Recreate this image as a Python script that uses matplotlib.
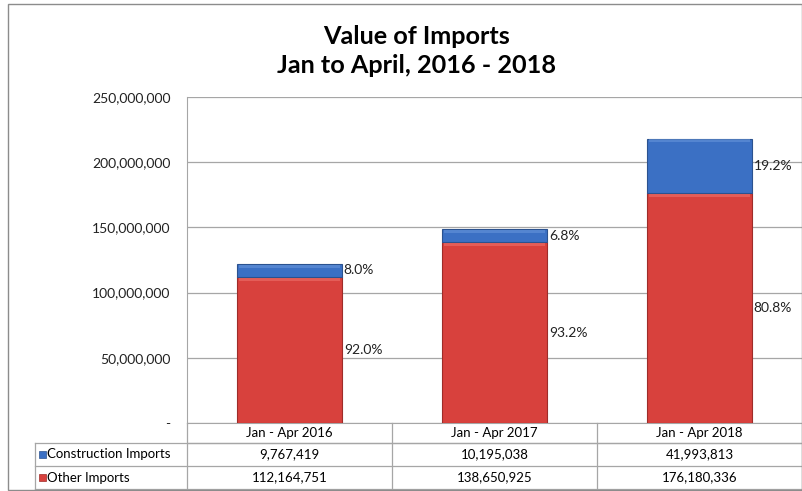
import matplotlib
matplotlib.use("Agg")
import matplotlib.pyplot as plt
from matplotlib.patches import Rectangle
from matplotlib.transforms import blended_transform_factory
import numpy as np

periods = ["Jan - Apr 2016", "Jan - Apr 2017", "Jan - Apr 2018"]
series = ["Construction Imports", "Other Imports"]
construction = [9767419, 10195038, 41993813]
other = [112164751, 138650925, 176180336]
yticks = [0, 50000000, 100000000, 150000000, 200000000, 250000000]

BLUE, BLUE_EDGE, BLUE_HI = "#3B70C4", "#2B528F", "#6A98DC"
RED, RED_EDGE, RED_HI = "#D8413D", "#9E2C29", "#EE7570"
GRID = "#A6A6A6"

plt.rcParams["font.family"] = ["Lato", "DejaVu Sans"]

W, H = 803, 491
fig = plt.figure(figsize=(W / 100, H / 100), dpi=100)
ax = fig.add_axes([187 / W, 1 - 423 / H, (802 - 187) / W, (423 - 97) / H])

x = np.arange(len(periods))
cons = np.array(construction)
oth = np.array(other)
tot = cons + oth
bw = 0.51

ax.bar(x, oth, width=bw, color=RED, edgecolor=RED_EDGE, linewidth=0.8, zorder=3)
ax.bar(x, cons, bottom=oth, width=bw, color=BLUE, edgecolor=BLUE_EDGE, linewidth=0.8, zorder=3)
# thin highlight on top of each segment (bevel look)
hi = 250000000 * 3 / 326
ax.bar(x, hi, bottom=oth - hi * 1.3, width=bw * 0.97, color=RED_HI, linewidth=0, zorder=4, alpha=0.55)
ax.bar(x, hi, bottom=tot - hi * 1.3, width=bw * 0.97, color=BLUE_HI, linewidth=0, zorder=4, alpha=0.55)

# percentage labels right of each segment
for i in range(len(x)):
    ax.text(x[i] + 0.265, oth[i] + cons[i] / 2, f"{cons[i] / tot[i] * 100:.1f}%",
            va="center", ha="left", fontsize=10, color="#222222")
    ax.text(x[i] + 0.265, oth[i] / 2, f"{oth[i] / tot[i] * 100:.1f}%",
            va="center", ha="left", fontsize=10, color="#222222")

ax.set_xlim(-0.5, 2.5)
ax.set_ylim(0, 250000000)
ax.set_yticks(yticks)
ax.set_yticklabels(["-" if v == 0 else f"{v:,}" for v in yticks], fontsize=10, color="#222222")
ax.tick_params(axis="y", length=0, pad=12)
ax.set_xticks([])
ax.yaxis.grid(True, color=GRID, linewidth=0.9, zorder=0)
for s in ["top", "right"]:
    ax.spines[s].set_visible(False)
ax.spines["left"].set_color(GRID)
ax.spines["bottom"].set_color(GRID)

fig.text(417 / W, 1 - 51 / H, "Value of Imports\nJan to April, 2016 - 2018", fontsize=18.2,
         fontweight="bold", linespacing=1.35, ha="center", va="center")

# data table under the axis
tr = blended_transform_factory(ax.transData, ax.transAxes)
rows_px = [0, 20, 43, 66]
ry = [-p / 326 for p in rows_px]
left_col = -0.5 - (187 - 35) / ((802 - 187) / 3)
kw = dict(color=GRID, lw=0.9, clip_on=False, transform=tr)
ax.plot([-0.5, 2.5], [ry[1], ry[1]], **kw)
for k in (1, 2, 3):
    ax.plot([left_col, 2.5], [ry[k], ry[k]], **kw)
for b in (-0.5, 0.5, 1.5, 2.5):
    ax.plot([b, b], [0, ry[3]], **kw)
ax.plot([left_col, left_col], [ry[1], ry[3]], **kw)

for i, p in enumerate(periods):
    ax.text(x[i], (ry[0] + ry[1]) / 2, p, ha="center", va="center", fontsize=9.5,
            transform=tr, clip_on=False)
    ax.text(x[i], (ry[1] + ry[2]) / 2, f"{construction[i]:,}", ha="center", va="center",
            fontsize=9.5, transform=tr, clip_on=False)
    ax.text(x[i], (ry[2] + ry[3]) / 2, f"{other[i]:,}", ha="center", va="center",
            fontsize=9.5, transform=tr, clip_on=False)

for k, (name, col, ec) in enumerate(zip(series, [BLUE, RED], [BLUE_EDGE, RED_EDGE])):
    yc = (ry[1 + k] + ry[2 + k]) / 2
    ax.add_patch(Rectangle((left_col + 0.02, yc - 0.012), 0.033, 0.024, transform=tr,
                           facecolor=col, edgecolor=ec, lw=0.5, clip_on=False))
    ax.text(left_col + 0.06, yc, name, ha="left", va="center", fontsize=9.5,
            transform=tr, clip_on=False)

# chart border
fig.patches.append(Rectangle((8 / W, 1 - 490 / H), (802 - 8) / W, (490 - 4) / H,
                             transform=fig.transFigure, fill=False, edgecolor="#8C8C8C", lw=1.0))

fig.savefig("out.png", dpi=100)
